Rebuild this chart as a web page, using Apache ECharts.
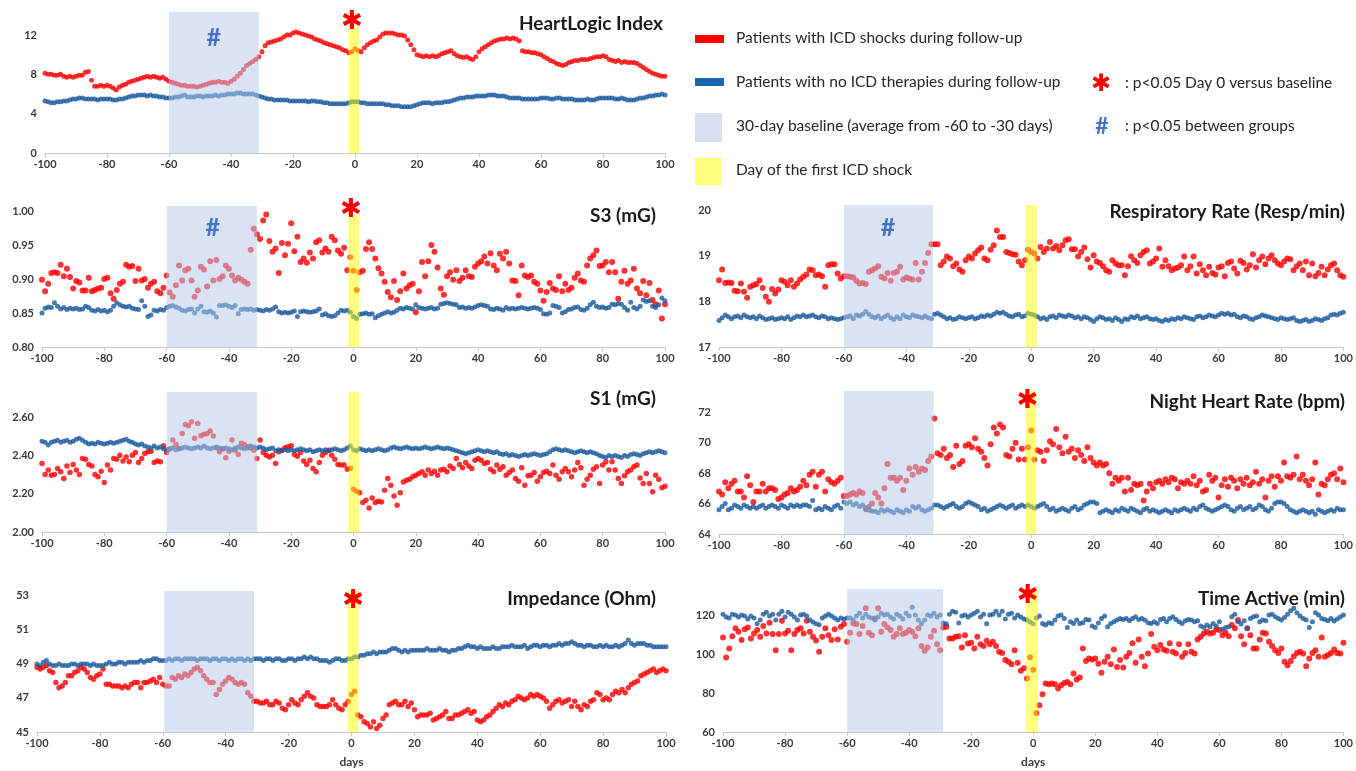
<!DOCTYPE html>
<html><head><meta charset="utf-8">
<script src="https://cdn.jsdelivr.net/npm/echarts@6.0.0/dist/echarts.min.js"></script>
<style>html,body{margin:0;padding:0;background:#fff}#c{width:1356px;height:771px}</style>
</head><body><div id="c"></div><script>
// x domain: days -100 .. 100
const days = Array.from({length: 201}, (_, i) => i - 100);

// ---- HeartLogic Index ----
const hlShock = [
8.1,8.0,8.0,7.9,7.9,8.0,7.8,7.7,7.8,7.7,
7.8,7.9,7.9,8.2,8.3,7.4,6.8,6.8,6.9,6.8,
6.9,6.8,6.6,6.4,6.7,6.9,7.0,7.2,7.3,7.4,
7.5,7.6,7.7,7.8,7.7,7.8,7.7,7.6,7.7,7.5,
7.3,7.2,7.1,7.0,6.9,6.9,6.8,6.8,6.8,6.7,
6.8,6.9,7.0,7.1,7.2,7.2,7.3,7.2,7.2,7.1,
7.3,7.5,7.8,8.1,8.5,8.9,9.1,9.3,9.5,9.8,
10.3,10.9,11.2,11.3,11.4,11.5,11.6,11.8,12.0,12.0,
12.2,12.3,12.2,12.1,12.0,11.9,11.8,11.6,11.5,11.4,
11.2,11.1,11.0,10.9,10.8,10.7,10.5,10.4,10.2,10.3,
10.6,10.4,10.3,10.7,11.0,11.2,11.4,11.5,11.8,12.1,
12.2,12.2,12.2,12.1,12.0,12.0,11.9,11.5,11.0,10.5,
10.0,9.9,9.8,9.9,9.8,9.9,9.8,9.9,10.1,10.2,
10.3,10.4,10.1,9.9,9.8,9.7,9.8,9.6,9.5,9.8,
10.3,10.6,10.8,11.0,11.2,11.4,11.5,11.6,11.6,11.7,
11.6,11.7,11.6,11.4,10.4,10.3,10.3,10.2,10.2,10.1,
10.0,9.8,9.6,9.4,9.3,9.1,9.0,8.9,9.0,9.2,
9.3,9.4,9.4,9.5,9.5,9.5,9.6,9.7,9.8,9.8,
9.9,9.8,9.5,9.4,9.3,9.4,9.2,9.3,9.2,9.2,
9.2,9.1,8.9,8.7,8.5,8.3,8.1,8.0,7.9,7.8,7.8];
const hlNoTherapy = [
5.3,5.2,5.1,5.1,5.2,5.2,5.3,5.3,5.4,5.5,
5.5,5.6,5.6,5.5,5.5,5.5,5.5,5.4,5.5,5.5,
5.5,5.5,5.4,5.4,5.5,5.5,5.6,5.7,5.8,5.8,
5.9,5.9,5.9,5.8,5.9,5.8,5.8,5.7,5.7,5.6,
5.6,5.6,5.7,5.7,5.8,5.9,5.7,5.7,5.7,5.8,
5.8,5.7,5.8,5.8,5.8,5.9,5.8,5.9,5.9,6.0,
6.0,6.0,6.1,6.1,6.0,6.0,6.0,6.0,5.9,5.8,
5.7,5.6,5.5,5.5,5.4,5.4,5.4,5.4,5.4,5.3,
5.3,5.3,5.3,5.3,5.3,5.2,5.3,5.3,5.2,5.2,
5.1,5.1,5.0,5.0,5.0,5.0,5.0,5.0,5.1,5.2,
5.2,5.2,5.1,5.1,5.0,5.0,5.0,5.0,5.0,5.0,
4.9,4.9,4.8,4.8,4.8,4.7,4.7,4.7,4.7,4.8,
4.9,5.0,5.1,5.1,5.1,5.0,5.1,5.1,5.1,5.2,
5.2,5.3,5.4,5.5,5.6,5.6,5.7,5.7,5.7,5.8,
5.8,5.8,5.8,5.9,5.9,5.9,5.8,5.8,5.8,5.7,
5.6,5.6,5.6,5.6,5.5,5.5,5.5,5.5,5.5,5.5,
5.6,5.6,5.6,5.5,5.5,5.6,5.6,5.5,5.5,5.5,
5.5,5.4,5.4,5.4,5.4,5.5,5.4,5.4,5.5,5.6,
5.6,5.6,5.6,5.6,5.5,5.5,5.6,5.5,5.4,5.4,
5.4,5.5,5.6,5.6,5.7,5.8,5.8,5.9,5.9,6.0,5.9];

// ---- S3 (mG) ----
const s3Shock = [
.899,.882,.893,.909,.910,.909,.921,.904,.915,.903,
.886,.897,.895,.883,.883,.902,.882,.884,.886,.887,
.900,.902,.879,.871,.884,.893,.896,.921,.918,.919,
.897,.915,.898,.900,.887,.893,.896,.882,.879,.887,
.905,.880,.874,.891,.920,.898,.913,.915,.898,.874,
.883,.918,.914,.889,.926,.898,.928,.900,.904,.920,
.915,.905,.898,.902,.899,.896,.893,.943,.974,.966,
.959,.986,.995,.956,.940,.945,.909,.953,.935,.952,
.982,.941,.962,.925,.930,.924,.939,.930,.954,.957,
.939,.945,.940,.962,.957,.942,.937,.946,.913,.932,
.912,.884,.910,.912,.944,.954,.944,.930,.916,.908,
.896,.881,.873,.897,.869,.882,.908,.886,.891,.893,
.851,.882,.925,.904,.926,.950,.940,.917,.886,.877,
.904,.910,.899,.913,.897,.902,.913,.904,.903,.918,
.923,.926,.933,.923,.938,.920,.913,.937,.930,.940,
.923,.898,.897,.876,.920,.905,.903,.905,.896,.893,
.883,.868,.881,.894,.886,.884,.904,.882,.893,.884,
.887,.902,.908,.898,.896,.920,.930,.935,.942,.919,
.920,.925,.910,.925,.910,.871,.896,.912,.893,.898,
.915,.886,.879,.897,.876,.894,.869,.863,.883,.842,.863];
const s3NoTherapy = [
.850,.857,.859,.858,.865,.860,.856,.858,.855,.857,
.856,.857,.855,.856,.860,.858,.854,.853,.855,.853,
.854,.852,.854,.860,.865,.862,.860,.859,.860,.857,
.856,.855,.868,.860,.845,.847,.854,.853,.855,.854,
.858,.860,.861,.859,.857,.854,.853,.855,.856,.850,
.856,.860,.852,.851,.853,.850,.844,.861,.861,.862,
.860,.858,.861,.849,.855,.856,.855,.856,.854,.855,
.854,.853,.855,.854,.856,.859,.852,.850,.851,.850,
.851,.853,.845,.852,.853,.852,.851,.852,.853,.856,
.847,.849,.846,.845,.846,.850,.854,.853,.854,.851,
.845,.842,.848,.849,.850,.848,.849,.843,.846,.848,
.850,.852,.850,.851,.854,.857,.856,.858,.857,.856,
.862,.858,.857,.856,.857,.858,.856,.857,.863,.864,
.865,.864,.863,.862,.858,.859,.857,.858,.857,.859,
.861,.862,.861,.860,.856,.855,.857,.856,.854,.858,
.856,.857,.856,.857,.858,.857,.856,.857,.858,.857,
.855,.849,.848,.850,.861,.860,.858,.850,.852,.855,
.856,.858,.859,.855,.854,.857,.862,.866,.860,.858,
.859,.857,.858,.863,.862,.864,.863,.858,.854,.866,
.858,.856,.860,.869,.867,.868,.860,.858,.862,.872,.868];

// ---- Respiratory Rate (Resp/min) ----
const rrShock = [
18.46,18.70,18.40,18.41,18.40,18.23,18.22,18.39,18.21,18.08,
18.32,18.35,18.38,18.46,18.29,18.10,17.99,18.27,18.17,18.26,
18.46,18.43,18.35,18.46,18.32,18.39,18.48,18.54,18.59,18.70,
18.68,18.57,18.59,18.55,18.32,18.79,18.81,18.81,18.61,18.50,
18.55,18.55,18.54,18.52,18.45,18.39,18.40,18.38,18.65,18.68,
18.72,18.77,18.54,18.50,18.62,18.45,18.62,18.65,18.76,18.48,
18.52,18.50,18.48,18.84,18.48,18.65,18.84,19.06,19.25,19.25,
19.25,18.79,18.87,18.98,18.94,18.77,18.83,18.70,18.65,18.90,
18.98,18.94,19.05,19.12,19.18,18.94,18.90,19.13,19.23,19.55,
19.41,19.41,19.08,19.06,19.03,19.02,18.87,18.79,18.90,19.13,
19.08,19.05,18.94,19.19,19.08,19.16,19.30,19.16,19.21,19.12,
19.23,19.34,19.36,19.14,19.14,18.98,19.08,19.18,18.92,18.74,
19.01,18.87,18.84,18.77,18.68,18.65,18.90,18.83,18.79,18.79,
18.57,18.77,18.99,18.90,18.84,19.01,19.08,19.12,18.83,18.87,
18.94,19.16,18.76,18.90,18.77,18.68,18.72,18.74,18.79,18.98,
18.68,18.77,18.98,18.61,18.81,18.68,18.57,18.76,18.62,18.59,
18.74,18.77,18.55,18.84,18.87,18.72,18.61,18.89,18.84,18.70,
18.79,19.03,18.74,18.90,18.98,18.81,18.94,19.01,18.90,18.83,
18.79,18.87,18.94,18.92,18.68,18.77,18.83,18.68,18.87,18.57,
18.83,18.55,18.62,18.76,18.57,18.70,18.79,18.83,18.68,18.57,18.54];
const rrNoTherapy = [
17.58,17.64,17.70,17.66,17.62,17.66,17.68,17.64,17.70,17.66,
17.64,17.66,17.62,17.68,17.64,17.60,17.62,17.64,17.60,17.62,
17.64,17.62,17.66,17.60,17.64,17.68,17.66,17.70,17.66,17.68,
17.70,17.66,17.64,17.68,17.66,17.62,17.64,17.62,17.60,17.62,
17.64,17.66,17.68,17.62,17.70,17.68,17.72,17.78,17.72,17.66,
17.64,17.68,17.62,17.66,17.70,17.64,17.60,17.66,17.62,17.70,
17.66,17.64,17.70,17.68,17.66,17.64,17.68,17.64,17.62,17.72,
17.74,17.70,17.66,17.62,17.64,17.60,17.62,17.66,17.64,17.62,
17.64,17.66,17.62,17.64,17.68,17.66,17.70,17.68,17.72,17.76,
17.74,17.76,17.72,17.68,17.66,17.70,17.72,17.66,17.68,17.74,
17.72,17.70,17.66,17.62,17.64,17.60,17.66,17.68,17.64,17.70,
17.68,17.66,17.70,17.68,17.64,17.66,17.62,17.66,17.64,17.60,
17.56,17.62,17.66,17.64,17.60,17.62,17.58,17.64,17.60,17.56,
17.62,17.60,17.66,17.64,17.68,17.62,17.64,17.66,17.62,17.60,
17.62,17.58,17.56,17.60,17.58,17.62,17.60,17.64,17.62,17.66,
17.64,17.62,17.60,17.66,17.68,17.64,17.66,17.70,17.68,17.66,
17.70,17.74,17.72,17.74,17.70,17.72,17.66,17.64,17.68,17.66,
17.62,17.60,17.64,17.66,17.70,17.68,17.66,17.64,17.62,17.60,
17.64,17.62,17.60,17.62,17.64,17.58,17.56,17.58,17.60,17.56,
17.58,17.62,17.60,17.58,17.62,17.64,17.70,17.72,17.70,17.74,17.76];

// ---- S1 (mG) ----
const s1Shock = [
2.359,2.301,2.324,2.297,2.301,2.332,2.315,2.280,2.346,2.311,
2.353,2.324,2.301,2.385,2.381,2.353,2.346,2.301,2.289,2.318,
2.259,2.350,2.324,2.385,2.381,2.402,2.371,2.393,2.367,2.402,
2.416,2.364,2.385,2.411,2.420,2.423,2.364,2.371,2.367,2.451,
2.416,2.434,2.481,2.458,2.437,2.516,2.563,2.556,2.577,2.490,
2.568,2.504,2.511,2.516,2.528,2.502,2.441,2.420,2.434,2.388,
2.423,2.481,2.428,2.405,2.464,2.458,2.446,2.440,2.428,2.385,
2.481,2.416,2.402,2.393,2.402,2.359,2.420,2.428,2.441,2.446,
2.451,2.405,2.397,2.416,2.371,2.353,2.376,2.332,2.315,2.364,
2.402,2.416,2.428,2.402,2.381,2.353,2.350,2.350,2.329,2.334,
2.224,2.213,2.206,2.154,2.166,2.126,2.178,2.154,2.161,2.157,
2.219,2.280,2.245,2.189,2.140,2.206,2.262,2.271,2.276,2.289,
2.297,2.306,2.315,2.297,2.324,2.306,2.318,2.297,2.324,2.329,
2.315,2.346,2.332,2.385,2.353,2.336,2.364,2.346,2.332,2.376,
2.385,2.376,2.359,2.364,2.329,2.315,2.350,2.329,2.341,2.297,
2.311,2.324,2.280,2.266,2.336,2.245,2.294,2.297,2.311,2.266,
2.289,2.311,2.318,2.306,2.350,2.297,2.276,2.315,2.332,2.315,
2.289,2.324,2.364,2.336,2.245,2.276,2.297,2.329,2.341,2.254,
2.350,2.367,2.324,2.367,2.324,2.280,2.254,2.294,2.315,2.324,
2.341,2.350,2.283,2.254,2.306,2.254,2.210,2.297,2.276,2.231,2.240];
const s1NoTherapy = [
2.475,2.470,2.455,2.470,2.475,2.480,2.470,2.475,2.480,2.470,
2.475,2.485,2.490,2.480,2.470,2.460,2.465,2.460,2.470,2.465,
2.460,2.465,2.470,2.465,2.470,2.475,2.480,2.485,2.475,2.470,
2.460,2.455,2.460,2.450,2.445,2.440,2.450,2.440,2.445,2.435,
2.430,2.435,2.440,2.430,2.435,2.440,2.445,2.440,2.435,2.440,
2.445,2.440,2.450,2.440,2.435,2.440,2.445,2.440,2.435,2.440,
2.435,2.430,2.440,2.445,2.440,2.435,2.440,2.450,2.445,2.440,
2.445,2.440,2.430,2.435,2.440,2.425,2.430,2.425,2.430,2.425,
2.430,2.425,2.430,2.435,2.430,2.425,2.430,2.420,2.425,2.430,
2.425,2.430,2.425,2.430,2.435,2.430,2.425,2.430,2.440,2.450,
2.430,2.425,2.435,2.430,2.425,2.430,2.425,2.430,2.435,2.430,
2.425,2.430,2.440,2.445,2.440,2.435,2.440,2.445,2.440,2.435,
2.440,2.435,2.440,2.445,2.440,2.435,2.440,2.445,2.440,2.435,
2.440,2.435,2.430,2.425,2.420,2.415,2.410,2.415,2.420,2.425,
2.430,2.425,2.420,2.425,2.420,2.415,2.420,2.410,2.405,2.410,
2.400,2.405,2.400,2.395,2.400,2.405,2.400,2.405,2.410,2.405,
2.400,2.405,2.410,2.420,2.430,2.435,2.430,2.425,2.430,2.425,
2.420,2.415,2.420,2.425,2.420,2.415,2.420,2.415,2.410,2.400,
2.395,2.390,2.400,2.395,2.400,2.395,2.390,2.400,2.395,2.405,
2.410,2.405,2.400,2.410,2.415,2.420,2.415,2.420,2.425,2.420,2.415];

// ---- Night Heart Rate (bpm) ----
const hrShock = [
66.8,66.6,67.4,67.0,67.3,67.5,66.8,66.8,66.4,67.8,
67.2,66.1,66.8,66.8,67.3,66.8,67.0,67.0,66.9,66.3,
66.4,66.6,66.7,67.0,66.8,66.9,67.1,67.5,67.2,67.9,
68.1,67.1,67.9,68.1,66.8,67.6,67.4,67.3,67.5,67.7,
66.5,66.5,66.6,66.7,66.6,66.8,66.7,65.7,65.6,66.0,
66.7,66.4,66.0,67.0,68.6,67.7,67.7,67.5,67.7,66.9,
67.5,68.3,67.9,68.4,68.1,68.3,68.2,68.8,69.1,71.6,
69.3,69.2,69.6,69.0,69.2,68.4,69.8,68.6,68.8,69.8,
69.9,69.7,70.3,69.6,69.4,69.0,68.5,69.9,71.0,70.6,
71.2,71.0,69.2,69.1,69.6,70.0,68.9,69.6,68.9,69.7,
70.8,68.9,69.5,69.4,68.8,69.5,70.1,69.9,70.9,69.7,
69.3,70.4,69.4,69.6,69.0,69.5,69.2,68.8,69.7,69.0,
68.7,68.5,68.7,68.5,68.6,68.0,67.3,67.7,67.5,67.7,
66.8,67.7,66.9,67.3,67.2,67.3,66.2,66.8,67.3,67.0,
67.4,67.5,67.3,67.6,67.4,67.7,67.6,67.0,67.4,67.3,
67.5,67.3,67.8,67.2,67.5,66.8,66.9,67.9,67.5,67.7,
66.4,67.2,67.6,67.1,67.7,67.5,67.0,67.6,67.3,67.7,
67.2,67.4,68.1,67.3,67.6,66.4,67.5,67.8,67.1,67.8,
67.5,68.7,67.8,67.7,67.9,69.1,67.6,67.9,67.5,67.2,
67.6,68.7,66.6,67.3,67.2,67.6,67.9,68.0,67.6,68.3,67.4];
const hrNoTherapy = [
65.6,65.8,66.0,65.6,65.7,65.9,65.8,65.7,65.9,65.8,
65.7,65.8,65.7,65.8,65.9,65.7,65.8,65.9,65.8,65.7,
65.9,65.8,65.7,65.9,65.8,65.9,65.8,65.9,65.9,65.8,
66.2,65.6,65.7,65.6,65.8,65.7,65.6,65.8,65.9,65.7,
66.1,66.0,66.1,65.9,66.0,65.8,65.9,65.6,65.8,65.5,
65.5,65.4,65.6,65.5,65.6,65.5,65.4,65.6,65.5,65.4,
65.6,65.5,65.8,65.7,65.8,65.6,65.5,65.6,65.7,65.9,
65.9,65.8,65.7,65.8,65.9,66.0,65.8,65.7,65.8,66.0,
66.1,66.0,65.9,65.8,65.6,65.7,65.5,65.6,65.7,65.8,
65.9,65.8,65.7,65.8,65.9,65.7,65.8,65.9,65.8,65.9,
65.8,65.7,65.8,65.9,66.0,65.8,65.6,65.7,65.5,65.6,
65.7,65.6,65.5,65.7,65.8,65.6,65.7,65.9,66.0,66.1,
66.1,66.0,65.4,65.5,65.6,65.5,65.4,65.6,65.5,65.7,
65.6,65.5,65.7,65.6,65.5,65.4,65.6,65.7,65.5,65.6,
65.5,65.4,65.5,65.6,65.5,65.4,65.6,65.5,65.6,65.7,
65.6,65.5,65.7,65.6,65.8,65.9,65.7,65.6,65.5,65.6,
65.7,65.8,65.9,65.8,65.6,65.5,65.7,65.8,65.6,65.7,
65.8,65.6,65.7,65.9,65.8,65.6,65.5,65.7,66.0,66.1,
66.1,66.0,65.8,65.6,65.5,65.4,65.5,65.6,65.5,65.4,
65.5,65.3,65.6,65.5,65.4,65.5,65.6,65.5,65.7,65.6,65.6];

// ---- Impedance (Ohm) ----
const impShock = [
48.8,48.7,48.8,48.9,48.6,48.5,47.9,47.6,47.7,47.9,
48.3,48.3,48.5,48.6,48.8,48.7,48.5,48.2,48.1,48.3,
48.4,48.7,47.8,47.8,47.7,47.7,47.7,47.6,47.7,47.6,
47.8,47.9,47.9,47.6,47.9,47.9,48.0,48.1,47.9,48.2,
47.8,47.7,47.7,48.2,48.1,48.3,48.2,48.4,48.3,48.5,
48.7,48.8,48.6,48.3,48.1,47.9,47.9,47.2,47.5,47.8,
48.0,48.2,48.1,47.9,47.8,47.9,47.8,47.3,47.1,46.8,
46.8,46.7,46.7,46.8,46.6,46.6,46.8,46.7,46.4,46.3,
46.6,46.9,46.7,46.6,46.9,47.1,47.3,47.1,47.0,46.6,
46.5,46.5,46.5,46.6,46.9,46.6,46.4,46.3,46.6,46.8,
47.2,47.4,46.0,45.9,45.6,45.5,45.3,45.6,45.2,45.4,
45.8,46.0,46.6,46.7,46.8,46.6,46.6,46.8,46.5,46.7,
46.3,45.9,46.0,46.0,46.0,46.1,45.7,45.8,45.9,46.0,
46.2,45.8,45.8,46.0,46.0,46.1,46.2,46.3,46.1,46.2,
45.7,45.6,45.7,45.9,46.0,46.2,46.4,46.6,46.5,46.7,
46.6,46.8,46.9,47.1,47.0,46.9,47.0,47.2,47.1,47.2,
47.1,47.0,46.8,46.4,46.6,46.8,46.9,46.7,46.8,46.9,
46.5,46.8,46.5,46.3,46.6,46.5,46.8,46.9,47.3,47.2,
46.9,47.0,46.9,47.2,47.4,47.3,47.5,47.3,47.6,47.8,
47.9,48.0,48.3,48.4,48.5,48.6,48.7,48.5,48.6,48.7,48.6];
const impNoTherapy = [
49.0,48.9,49.1,49.2,49.0,48.9,48.9,49.0,48.9,48.9,
48.9,49.0,49.0,48.9,49.0,49.0,49.0,48.9,49.0,48.9,
48.9,48.9,49.0,49.1,49.0,49.0,49.1,49.1,49.0,49.1,
49.1,49.1,49.1,49.2,49.1,49.2,49.2,49.3,49.3,49.2,
49.2,49.2,49.3,49.2,49.3,49.3,49.2,49.3,49.3,49.3,
49.3,49.2,49.3,49.3,49.3,49.2,49.3,49.3,49.2,49.3,
49.3,49.2,49.3,49.2,49.3,49.3,49.2,49.3,49.2,49.3,
49.3,49.3,49.2,49.3,49.3,49.2,49.3,49.3,49.2,49.2,
49.3,49.3,49.2,49.3,49.3,49.4,49.3,49.4,49.3,49.3,
49.2,49.2,49.2,49.1,49.2,49.3,49.3,49.2,49.2,49.3,
49.3,49.4,49.4,49.5,49.5,49.6,49.6,49.7,49.6,49.7,
49.7,49.7,49.8,49.9,49.9,49.8,49.7,49.8,49.7,49.8,
49.8,49.8,49.8,49.8,49.9,49.8,49.8,49.8,49.9,49.8,
49.8,49.7,49.8,49.8,49.9,49.9,50.0,50.1,50.0,50.0,
49.9,50.0,49.9,49.9,49.9,50.0,49.9,49.9,50.0,50.0,
50.0,50.1,50.0,50.0,50.0,50.1,49.9,50.0,50.1,50.1,
50.0,50.1,50.1,50.0,50.1,50.1,50.2,50.1,50.2,50.2,
50.3,50.2,50.1,50.1,50.0,50.1,50.1,50.0,50.0,50.1,
50.0,50.1,50.0,50.0,50.1,50.0,50.1,50.2,50.4,50.2,
50.1,50.2,50.2,50.2,50.1,50.1,50.0,50.0,50.0,50.0,50.0];

// ---- Time Active (min) ----
const taShock = [
108.5,98.3,102.9,109.2,113.2,111.5,107.2,112.7,113.7,108.0,
110.6,112.3,108.9,114.4,110.6,116.1,110.3,102.0,110.3,117.1,
110.6,112.0,102.0,110.3,112.3,113.2,110.6,117.1,111.5,108.9,
107.0,101.2,108.9,113.2,109.7,107.2,112.7,107.5,114.0,115.4,
106.3,110.9,115.7,115.4,110.3,114.4,123.5,110.9,109.7,118.3,
123.5,111.5,115.4,113.7,112.3,108.9,110.3,113.2,110.3,110.9,
112.3,111.5,109.2,113.2,104.1,101.7,103.4,108.9,112.0,105.1,
102.0,113.7,114.0,108.0,108.0,108.9,109.2,103.4,109.7,105.4,
105.8,102.9,108.9,105.1,104.1,106.8,105.1,106.3,104.1,101.2,
100.6,96.9,96.0,94.8,102.0,95.5,91.4,92.7,87.5,98.4,
92.0,69.8,73.7,79.4,84.9,84.5,84.9,84.5,82.3,84.0,
85.2,85.7,84.5,90.0,86.9,88.0,102.9,96.5,97.7,97.2,
97.7,95.0,90.4,96.0,98.6,94.8,102.4,93.4,96.9,93.1,
98.6,100.6,105.5,95.5,107.5,98.6,93.8,100.3,110.3,103.7,
102.0,104.6,102.4,101.7,105.5,101.2,100.3,105.1,98.6,100.6,
105.1,101.2,100.3,107.5,108.9,110.6,111.5,110.6,110.9,112.7,
112.3,109.7,110.9,109.2,114.9,113.2,117.5,109.2,105.1,113.2,
109.7,102.9,102.9,107.5,110.9,110.6,106.3,104.1,102.0,100.6,
102.9,96.0,94.3,96.5,98.9,100.6,101.2,100.3,93.8,97.7,
100.6,102.0,98.6,108.5,98.6,99.5,100.6,102.4,100.6,100.3,105.8];
const taNoTherapy = [
120.5,119.0,118.5,120.5,120.0,119.0,120.0,119.5,118.0,119.5,
118.5,115.5,117.5,120.5,121.5,119.5,120.5,117.5,120.5,122.0,
119.0,121.5,120.5,119.0,117.5,120.0,120.5,119.5,117.5,116.5,
115.5,115.0,118.5,119.5,120.5,119.5,118.5,117.5,118.5,118.0,
118.5,118.5,117.5,119.5,121.0,118.5,120.5,119.0,118.5,117.5,
119.0,121.0,120.0,120.5,119.0,118.0,120.5,119.5,118.0,121.0,
119.5,124.0,120.0,117.5,115.5,117.5,120.0,119.5,121.0,119.0,
120.0,116.0,115.5,120.5,122.0,121.5,116.0,119.5,120.0,119.0,
120.0,121.0,122.0,119.0,120.5,115.5,120.0,120.5,122.0,120.0,
122.0,118.0,120.5,121.0,118.5,120.0,119.0,118.0,117.5,116.5,
115.5,118.5,119.5,115.7,114.9,116.1,115.7,117.5,119.5,120.0,
118.3,113.7,116.6,115.7,117.5,115.7,116.1,117.8,117.5,114.4,
113.7,116.0,118.3,119.5,114.0,115.7,116.6,117.5,118.3,117.8,
118.3,117.1,118.3,119.1,117.8,118.3,117.5,116.1,115.7,116.6,
115.7,117.8,118.3,116.6,118.3,119.1,117.8,116.6,115.7,117.1,
117.8,117.5,116.6,117.1,114.4,113.7,114.9,114.0,115.7,114.4,
116.6,112.7,113.7,114.0,119.1,120.5,116.6,115.4,117.1,113.2,
118.3,119.1,119.5,116.6,117.5,117.1,120.0,120.5,119.1,118.3,
117.5,118.8,120.5,122.3,123.5,121.2,119.5,118.3,117.5,113.7,
116.6,121.2,120.0,118.3,117.8,117.1,118.3,117.0,118.0,119.0,120.0];

// Titles, y tick setup
const titles = ['HeartLogic Index','S3 (mG)','Respiratory Rate (Resp/min)','S1 (mG)','Night Heart Rate (bpm)','Impedance (Ohm)','Time Active (min)'];
const yTicks = [[0,12,4,0],[0.80,1.00,0.05,2],[17,20,1,0],[2.00,2.60,0.2,2],[64,72,2,0],[45,53,2,0],[60,120,20,0]];
const legendLabels = ['Patients with ICD shocks during follow-up','Patients with no ICD therapies during follow-up','30-day baseline (average from -60 to -30 days)','Day of the first ICD shock',': p<0.05 Day 0 versus baseline',': p<0.05 between groups'];

const RED = '#ff0000', BLUE = '#1a5a9e';
const panels = [
 {red:hlShock, blue:hlNoTherapy, g:{left:45,top:12,width:620,height:141}, ymax:14.34, base:[-60,-31], shock:[-2,1.4], shockTop:12.8, star:[-1,13.3], hash:[-45.6,11.7], tr:693, tt:14, rs:5, bs:5},
 {red:s3Shock, blue:s3NoTherapy, g:{left:42,top:206,width:623,height:141}, ymax:1.0074, base:[-60,-31], shock:[-1.6,1.9], shockTop:0.994, star:[-0.8,1.001], hash:[-45.2,0.975], tr:700, tt:206, rs:6, bs:5},
 {red:rrShock, blue:rrNoTherapy, g:{left:719,top:205,width:631,height:142}, ymax:20.11, base:[-60,-31.5], shock:[-1.7,1.8], tr:11, tt:202, hash:[-45.9,19.6], rs:6, bs:5},
 {red:s1Shock, blue:s1NoTherapy, g:{left:42,top:392,width:623,height:140}, ymax:2.7326, base:[-60,-31], shock:[-1.6,1.9], tr:700, tt:389, rs:5.5, bs:5},
 {red:hrShock, blue:hrNoTherapy, g:{left:719,top:391,width:632,height:143}, ymax:73.4, base:[-60,-31.3], shock:[-1.8,1.6], star:[-1.2,72.7], tr:11, tt:392, rs:6, bs:5},
 {red:impShock, blue:impNoTherapy, g:{left:37,top:591,width:629,height:141}, ymax:53.28, base:[-59.5,-31], shock:[-1.3,2.2], star:[0.5,52.7], tr:700, tt:589, rs:5.5, bs:5, days:true},
 {red:taShock, blue:taNoTherapy, g:{left:723,top:589,width:628,height:143}, ymax:133.4, base:[-60,-29], shock:[-2.3,1.5], star:[-1.8,129.6], tr:11, tt:589, rs:6, bs:5, days:true}
];

const lab = {fontSize:11, fontWeight:'bold', color:'#3a3a3a', fontFamily:'Lato'};
const series = [];
panels.forEach((p,k) => {
  const yt = yTicks[k];
  series.push({type:'scatter', xAxisIndex:k, yAxisIndex:k, z:2, symbolSize:p.rs, itemStyle:{color:RED},
    data: days.map((d,i)=>[d,p.red[i]]), silent:true});
  series.push({type:'scatter', xAxisIndex:k, yAxisIndex:k, z:3, symbolSize:p.bs, itemStyle:{color:BLUE},
    data: days.map((d,i)=>[d,p.blue[i]]), silent:true});
  const mp = [];
  if (p.star) mp.push({coord:p.star, label:{show:true, position:'inside', formatter:'\u2731', color:RED, fontSize:26, fontFamily:'DejaVu Sans', fontWeight:'bold'}});
  if (p.hash) mp.push({coord:p.hash, label:{show:true, position:'inside', formatter:'#', color:'#4472c4', fontSize:25, fontFamily:'Lato', fontWeight:'bold'}});
  const shockArea = p.shockTop !== undefined
    ? [{xAxis:p.shock[0], yAxis:yt[0], itemStyle:{color:'rgba(255,255,0,0.5)'}},{xAxis:p.shock[1], yAxis:p.shockTop}]
    : [{xAxis:p.shock[0], itemStyle:{color:'rgba(255,255,0,0.5)'}},{xAxis:p.shock[1]}];
  series.push({type:'scatter', xAxisIndex:k, yAxisIndex:k, z:10, data:[], silent:true,
    markArea:{silent:true, z:10, data:[
      [{xAxis:p.base[0], itemStyle:{color:'rgba(180,199,231,0.5)'}},{xAxis:p.base[1]}],
      shockArea
    ]},
    markPoint:{silent:true, z:12, symbol:'circle', symbolSize:2, itemStyle:{color:'rgba(0,0,0,0)'}, data:mp}
  });
});

const graphic = [];
const sw = [[695,35,29,8,RED],[695,78,29,8,'#1e64b4'],[695,113,27,29,'#d6dff0'],[695,158,27,27,'#ffff80']];
const ly = [38,82,126,170];
sw.forEach((s,i)=>{
  graphic.push({type:'rect', shape:{x:s[0],y:s[1],width:s[2],height:s[3]}, style:{fill:s[4]}});
  graphic.push({type:'text', style:{x:736, y:ly[i], text:legendLabels[i], font:'15.5px Lato', fill:'#262626', verticalAlign:'middle'}});
});
graphic.push({type:'text', style:{x:1101, y:85, text:'\u2731', font:'bold 24px "DejaVu Sans"', fill:RED, align:'center', verticalAlign:'middle'}});
graphic.push({type:'text', style:{x:1125, y:83, text:legendLabels[4], font:'15.5px Lato', fill:'#262626', verticalAlign:'middle'}});
graphic.push({type:'text', style:{x:1102, y:127, text:'#', font:'bold 23px Lato', fill:'#4472c4', align:'center', verticalAlign:'middle'}});
graphic.push({type:'text', style:{x:1125, y:126, text:legendLabels[5], font:'15.5px Lato', fill:'#262626', verticalAlign:'middle'}});

const option = {
  animation:false,
  backgroundColor:'#fff',
  title: panels.map((p,k)=>({text:titles[k], right:p.tr, top:p.tt, padding:0,
    textStyle:{fontSize:19, fontWeight:'bold', color:'#1a1a1a', fontFamily:'Lato'}})),
  grid: panels.map(p=>Object.assign({}, p.g)),
  xAxis: panels.map((p,k)=>({type:'value', gridIndex:k, min:-100, max:100, interval:20,
    axisLine:{show:true, onZero:false, lineStyle:{color:'#c8c8c8', width:1}},
    axisTick:{show:true, length:4, lineStyle:{color:'#c8c8c8'}},
    splitLine:{show:false}, axisLabel:Object.assign({margin:6}, lab),
    name: p.days ? 'days' : '', nameLocation:'middle', nameGap:24,
    nameTextStyle:{fontSize:12, fontWeight:'bold', color:'#3a3a3a', fontFamily:'Lato'}})),
  yAxis: panels.map((p,k)=>{ const yt = yTicks[k]; return {type:'value', gridIndex:k, min:yt[0], max:p.ymax, interval:yt[2],
    axisLine:{show:false}, axisTick:{show:false}, splitLine:{show:false},
    axisLabel:Object.assign({margin:8, formatter:v => v > yt[1] + 1e-6 ? '' : v.toFixed(yt[3])}, lab)}; }),
  series: series,
  graphic: graphic
};
const chart = echarts.init(document.getElementById('c'), null, {renderer:'canvas'});
chart.setOption(option);
</script></body></html>
